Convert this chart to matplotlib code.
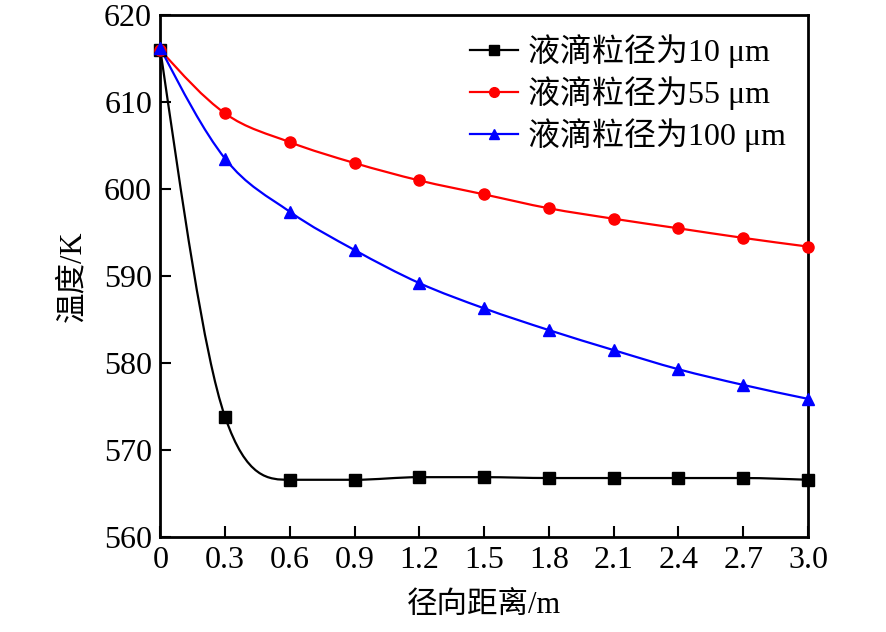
import numpy as np
import matplotlib
matplotlib.use("Agg")
import matplotlib.pyplot as plt
from matplotlib.path import Path
from matplotlib.patches import PathPatch

plt.rcParams['font.family'] = ['Liberation Serif', 'Noto Sans CJK SC']

# radial distance (m)
x = [0, 0.3, 0.6, 0.9, 1.2, 1.5, 1.8, 2.1, 2.4, 2.7, 3.0]
# temperature (K) for each droplet size
t_10 = [616.0, 573.8, 566.6, 566.6, 566.9, 566.9, 566.8, 566.8, 566.8, 566.8, 566.6]
t_55 = [616.0, 608.7, 605.4, 603.0, 601.0, 599.4, 597.8, 596.6, 595.5, 594.4, 593.4]
t_100 = [616.2, 603.5, 597.4, 593.0, 589.2, 586.3, 583.8, 581.5, 579.3, 577.5, 575.9]

labels = ['液滴粒径为10 μm', '液滴粒径为55 μm', '液滴粒径为100 μm']
colors = ['black', 'red', 'blue']
markers = ['s', 'o', '^']
xticks = [0, 0.3, 0.6, 0.9, 1.2, 1.5, 1.8, 2.1, 2.4, 2.7, 3.0]
xticklabels = ['0', '0.3', '0.6', '0.9', '1.2', '1.5', '1.8', '2.1', '2.4', '2.7', '3.0']


def smooth_path(xs, ys):
    # hermite curve through the points, drawn as bezier segments
    xs = np.asarray(xs, float)
    ys = np.asarray(ys, float)
    h = np.diff(xs)
    s = np.diff(ys) / h
    n = len(xs)
    m = np.zeros(n)
    m[1:-1] = (s[:-1] + s[1:]) / 2
    m[0] = (3 * s[0] - m[1]) / 2
    m[-1] = (3 * s[-1] - m[-2]) / 2
    # keep it from overshooting (Fritsch-Carlson)
    for i in range(n - 1):
        if s[i] == 0:
            m[i] = m[i + 1] = 0
            continue
        a, b = m[i] / s[i], m[i + 1] / s[i]
        if a < 0:
            m[i] = 0
            a = 0
        if b < 0:
            m[i + 1] = 0
            b = 0
        r = a * a + b * b
        if r > 9:
            t = 3 / np.sqrt(r)
            m[i] = t * a * s[i]
            m[i + 1] = t * b * s[i]
    verts = [(xs[0], ys[0])]
    codes = [Path.MOVETO]
    for i in range(n - 1):
        verts += [(xs[i] + h[i] / 3, ys[i] + m[i] * h[i] / 3),
                  (xs[i + 1] - h[i] / 3, ys[i + 1] - m[i + 1] * h[i] / 3),
                  (xs[i + 1], ys[i + 1])]
        codes += [Path.CURVE4] * 3
    return Path(verts, codes)


fig, ax = plt.subplots(figsize=(8.86, 6.32), dpi=100)
fig.subplots_adjust(left=0.181, right=0.912, top=0.976, bottom=0.150)

for ys, c, mk, lab in zip([t_10, t_55, t_100], colors, markers, labels):
    ax.add_patch(PathPatch(smooth_path(x, ys), facecolor='none', edgecolor=c,
                           lw=1.6, zorder=2))
    ax.plot(x, ys, ls='none', marker=mk, color=c, ms=8, zorder=3, clip_on=False)
    ax.plot([], [], color=c, marker=mk, ms=7, lw=1.6, label=lab)

ax.set_xlim(0, 3.0)
ax.set_ylim(560, 620)
ax.set_xticks(xticks)
ax.set_xticklabels(xticklabels)
ax.set_yticks(np.arange(560, 621, 10))
ax.tick_params(direction='in', length=8, width=1.5, labelsize=23, pad=6)
for sp in ax.spines.values():
    sp.set_linewidth(2)

ax.set_xlabel('径向距离/m', fontsize=22, labelpad=12)
ax.set_ylabel('温度/K', fontsize=22, labelpad=12)

ax.legend(loc='upper right', frameon=False, fontsize=23, handlelength=1.5,
          handletextpad=0.3, labelspacing=0.25, borderaxespad=0.2,
          bbox_to_anchor=(0.995, 1.0))

fig.savefig('out.png', dpi=100)
